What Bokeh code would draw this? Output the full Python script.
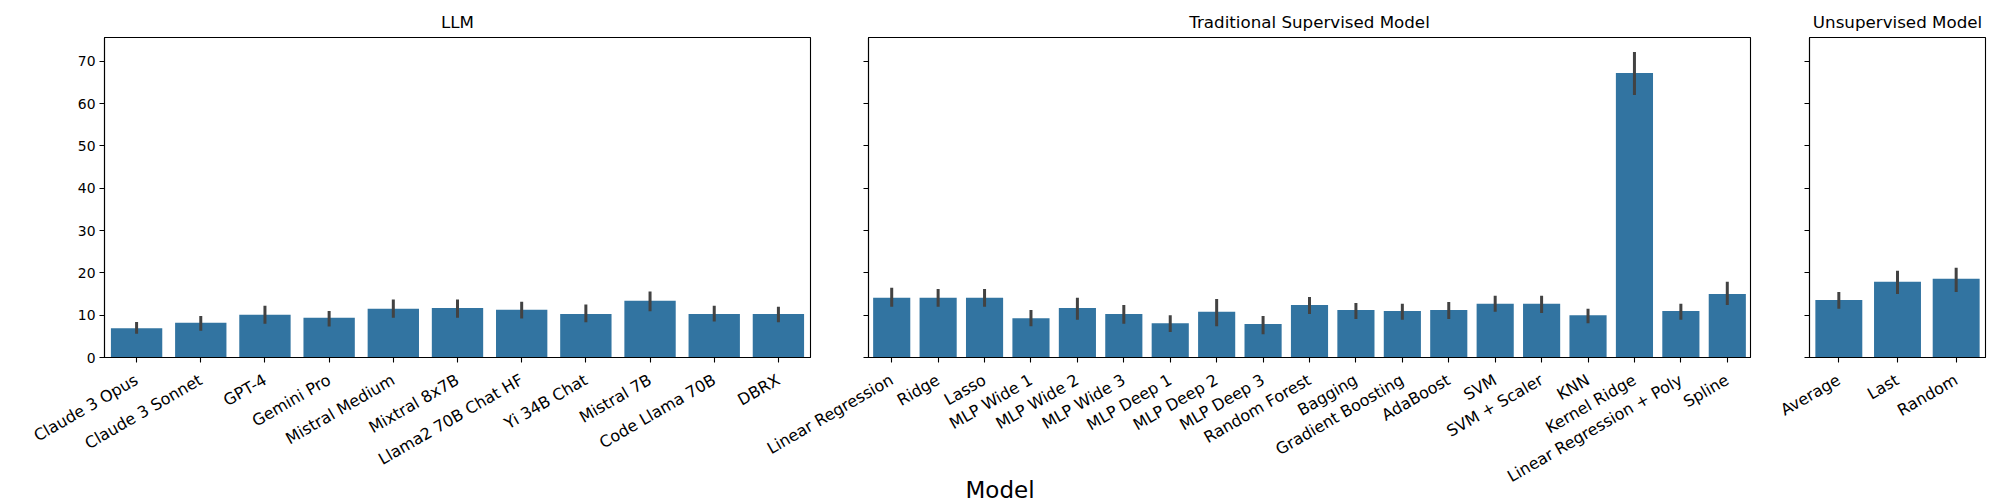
from bokeh.plotting import figure
from bokeh.layouts import row, column
from bokeh.models import Range1d, FactorRange, FixedTicker, CustomJSTickFormatter, Div
from bokeh.embed import file_html
from bokeh.resources import INLINE
import math

# ---------------- data ----------------
llm_models = ["Claude 3 Opus", "Claude 3 Sonnet", "GPT-4", "Gemini Pro", "Mistral Medium",
              "Mixtral 8x7B", "Llama2 70B Chat HF", "Yi 34B Chat", "Mistral 7B",
              "Code Llama 70B", "DBRX"]
llm_mean = [6.9, 8.2, 10.1, 9.4, 11.5, 11.7, 11.3, 10.3, 13.4, 10.3, 10.3]
llm_lo = [5.6, 6.3, 8.0, 7.3, 9.4, 9.4, 9.2, 8.3, 10.9, 8.5, 8.3]
llm_hi = [8.4, 9.8, 12.2, 11.0, 13.7, 13.7, 13.2, 12.5, 15.6, 12.2, 12.0]

trad_models = ["Linear Regression", "Ridge", "Lasso", "MLP Wide 1", "MLP Wide 2", "MLP Wide 3",
               "MLP Deep 1", "MLP Deep 2", "MLP Deep 3", "Random Forest", "Bagging",
               "Gradient Boosting", "AdaBoost", "SVM", "SVM + Scaler", "KNN", "Kernel Ridge",
               "Linear Regression + Poly", "Spline"]
trad_mean = [14.1, 14.1, 14.1, 9.3, 11.7, 10.3, 8.1, 10.8, 7.9, 12.4, 11.2,
             11.0, 11.2, 12.7, 12.7, 10.0, 67.2, 11.0, 15.0]
trad_lo = [12.0, 12.0, 12.0, 7.4, 8.9, 8.0, 6.0, 7.4, 5.5, 10.3, 9.1,
           8.9, 9.1, 10.8, 10.5, 8.1, 62.0, 8.9, 12.4]
trad_hi = [16.5, 16.2, 16.2, 11.2, 14.1, 12.4, 10.0, 13.8, 9.8, 14.3, 12.9,
           12.7, 13.1, 14.6, 14.6, 11.5, 72.2, 12.7, 17.9]

unsup_models = ["Average", "Last", "Random"]
unsup_mean = [13.6, 17.9, 18.6]
unsup_lo = [11.5, 15.0, 15.5]
unsup_hi = [15.5, 20.5, 21.2]

panel_titles = ["LLM", "Traditional Supervised Model", "Unsupervised Model"]
y_ticks = [0, 10, 20, 30, 40, 50, 60, 70]
y_max = 75.6
x_label = "Model"

# ---------------- style / layout ----------------
BAR = "#3274a1"
ERR = "#424242"
FONT = "DejaVu Sans"
H = 500
TOP = 37
FRAME_H = 320
BOTTOM = H - TOP - FRAME_H

# (left border, frame width, right border, left margin of the figure box)
geoms = [(104, 706, 29, 0), (139, 882, 2, -110), (57, 176, 15, 0)]


def make_fig(models, mean, lo, hi, title, geom, first):
    lb, fw, rb, ml = geom
    p = figure(x_range=FactorRange(*models), y_range=Range1d(0, y_max),
               width=lb + fw + rb, height=H, output_backend="svg", toolbar_location=None,
               min_border_left=lb, min_border_right=rb, min_border_top=TOP,
               min_border_bottom=BOTTOM, title=title, margin=(0, 0, 0, ml))
    p.vbar(x=models, top=mean, width=0.8, fill_color=BAR, line_color=None)
    p.segment(x0=models, y0=lo, x1=models, y1=hi, line_color=ERR, line_width=3)

    p.title.align = "center"
    p.title.text_font = FONT
    p.title.text_font_size = "16.7px"
    p.title.text_font_style = "normal"
    p.title.text_color = "black"
    p.title.standoff = 11

    p.xgrid.grid_line_color = None
    p.ygrid.grid_line_color = None
    p.outline_line_color = "black"
    p.outline_line_width = 1.1
    p.outline_line_alpha = 1
    p.background_fill_color = "white"
    p.border_fill_color = None

    for ax in (p.xaxis, p.yaxis):
        ax.axis_line_color = "black"
        ax.axis_line_width = 1.1
        ax.major_tick_line_color = "black"
        ax.major_tick_line_width = 1.1
        ax.major_tick_out = 5
        ax.major_tick_in = 0
        ax.minor_tick_line_color = None
        ax.major_label_text_font = FONT
        ax.major_label_text_color = "black"

    p.xaxis.major_label_orientation = math.pi / 6
    p.xaxis.major_label_text_font_size = "16px"
    p.xaxis.major_label_standoff = 16

    p.yaxis.ticker = FixedTicker(ticks=y_ticks)
    p.yaxis.major_label_text_font_size = "13.9px"
    p.yaxis.major_label_standoff = 4
    if not first:
        p.yaxis.formatter = CustomJSTickFormatter(code="return ''")
    return p


f1 = make_fig(llm_models, llm_mean, llm_lo, llm_hi, panel_titles[0], geoms[0], True)
f2 = make_fig(trad_models, trad_mean, trad_lo, trad_hi, panel_titles[1], geoms[1], False)
f3 = make_fig(unsup_models, unsup_mean, unsup_lo, unsup_hi, panel_titles[2], geoms[2], False)

# shared x label, centred on the page, overlapping the bottom of the figures
LBL_W, LBL_H = 90, 20
xlabel = Div(text=x_label, width=LBL_W, height=LBL_H,
             margin=(-LBL_H, 0, 0, 1000 - LBL_W // 2),
             styles={"font-family": FONT, "font-size": "23px", "line-height": f"{LBL_H}px",
                     "text-align": "center", "color": "black", "overflow": "visible"})

layout = column(row(f1, f2, f3), xlabel)
open("out.html", "w").write(file_html(layout, INLINE))
